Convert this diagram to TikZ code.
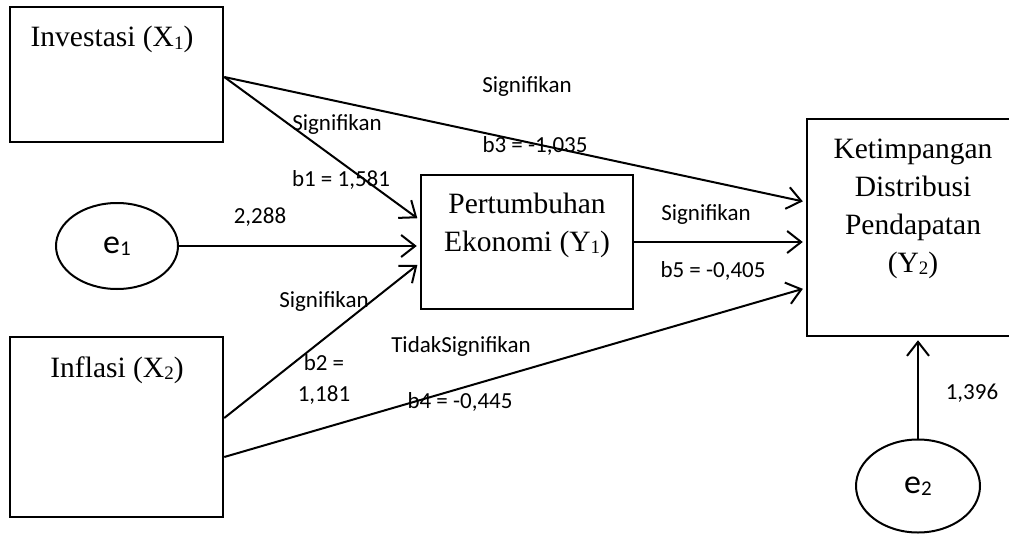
\documentclass[tikz,border=0pt]{standalone}
\usepackage{fontspec}
\setmainfont{Liberation Serif}
\newfontfamily\lblfont{Carlito}
\usetikzlibrary{shapes.geometric,arrows.meta}
\newcommand{\subidx}[2][19]{\raisebox{-2pt}{\fontsize{#1}{#1}\selectfont #2}}

\begin{document}
\begin{tikzpicture}[x=1pt,y=-1pt,>={Straight Barb[length=14pt,width=22pt]}]

%
% Styles
%
\tikzstyle{box} = [rectangle,draw,line width=2.5pt,inner sep=0pt]
\tikzstyle{err} = [ellipse,draw,line width=2pt,inner sep=0pt,font=\fontsize{34}{34}\lblfont]
\tikzstyle{title} = [align=center,inner sep=0pt,font=\fontsize{29.5}{38}\selectfont]
\tikzstyle{coef} = [inner sep=0pt,font=\fontsize{23}{26}\lblfont]
\tikzstyle{link} = [->,line width=2pt,shorten >=3pt]

\fill[white] (0,0) rectangle (1009,535);
\useasboundingbox (0,0) rectangle (1009,535);
\clip (0,0) rectangle (1009,535);

\node[box,minimum width=213pt,minimum height=135pt] (x1) at (116.5, 74.5) {};
\node[box,minimum width=213pt,minimum height=180pt] (x2) at (116.5,  427) {};
\node[box,minimum width=212pt,minimum height=134pt] (y1) at (  527,  242) {};
\node[box,minimum width=250pt,minimum height=217pt] (y2) at (  932,227.5) {};
\node[err,minimum width=122pt,minimum height=86pt]  (e1) at (  117,  246) {e\subidx[21]{1}};
\node[err,minimum width=124pt,minimum height=93pt]  (e2) at (  918,  486) {e\subidx[21]{2}};

\node[title,anchor=base] (x1txt) at (  112,  47) {Investasi (X\subidx{1})};
\node[title,anchor=base] (x2txt) at (  117, 377) {Inflasi (X\subidx{2})};
\node[title] (y1txt) at (527,225) {Pertumbuhan\\Ekonomi (Y\subidx{1})};
\node[title] (y2txt) at (913,209) {Ketimpangan\\Distribusi\\Pendapatan\\(Y\subidx{2})};

\draw[link] ([yshift=-2.5pt]x1.east) -- ([yshift=22pt]y1.west);
\draw[link] ([yshift=-2.5pt]x1.east) -- ([yshift=25.5pt]y2.west);
\draw[link] (e1.east) -- ([yshift=-4pt]y1.west);
\draw[link] ([yshift=9pt]x2.east) -- ([yshift=-21pt]y1.west);
\draw[link] ([yshift=-30pt]x2.east) -- ([yshift=-60.5pt]y2.west);
\draw[link] (y1.east) -- ([yshift=-14.5pt]y2.west);
\draw[link] (e2.north) -- (e2.north |- y2.south);

\node[coef] (s3) at (527,  86) {Signifikan};
\node[coef] (b3) at (535, 146) {b3 = -1,035};
\node[coef] (s1) at (337, 124) {Signifikan};
\node[coef] (b1) at (341, 180) {b1 = 1,581};
\node[coef] (c1) at (260, 217) {2,288};
\node[coef] (s5) at (706, 214) {Signifikan};
\node[coef] (b5) at (713, 271) {b5 = -0,405};
\node[coef] (s2) at (324, 301) {Signifikan};
\node[coef] (b2) at (324, 363) {b2 =};
\node[coef] (v2) at (324, 395) {1,181};
\node[coef] (s4) at (461, 346) {TidakSignifikan};
\node[coef] (b4) at (460, 402) {b4 = -0,445};
\node[coef] (c2) at (972, 393) {1,396};

\end{tikzpicture}
\end{document}
